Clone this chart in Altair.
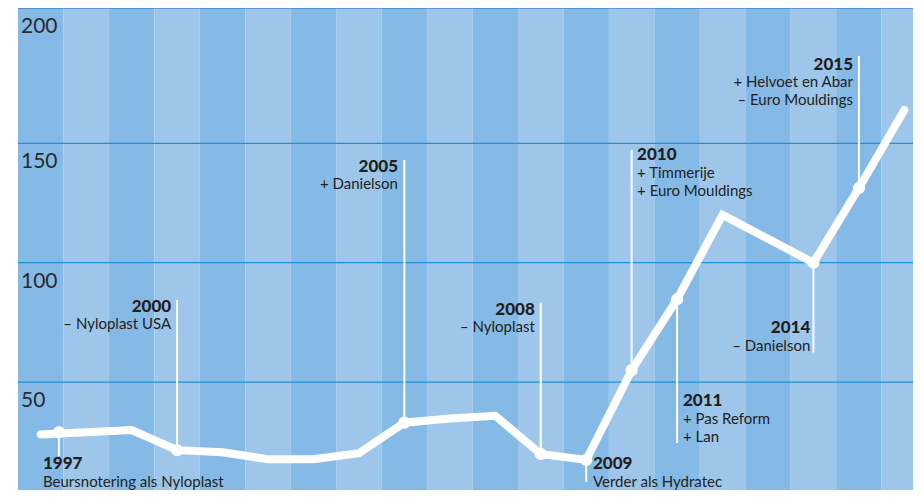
import altair as alt
import pandas as pd

# ---- data -------------------------------------------------------------
years = list(range(1997, 2017))
values = [28.1, 29.0, 29.9, 21.5, 20.6, 17.7, 17.7, 20.2, 33.0, 34.8,
          35.9, 19.9, 17.4, 55.0, 84.7, 120.0, 110.0, 100.0, 131.3, 162.3]

grid_values = [50, 100, 150, 200]
grid_labels = ["50", "100", "150", "200"]

ev_x = [1997.4, 2000, 2005, 2008, 2009, 2010, 2011, 2014, 2015]
ev_value = [29.0, 21.5, 33.0, 19.9, 17.4, 55.0, 84.7, 100.0, 131.3]
ev_leader_end = [19.0, 84.4, 143.0, 83.3, 8.2, 147.2, 24.5, 62.4, 182.3]
ev_label = ["1997", "2000", "2005", "2008", "2009", "2010", "2011", "2014", "2015"]
ev_text = [
    ["Beursnotering als Nyloplast"],
    ["\u2013 Nyloplast USA"],
    ["+ Danielson"],
    ["\u2013 Nyloplast"],
    ["Verder als Hydratec"],
    ["+ Timmerije", "+ Euro Mouldings"],
    ["+ Pas Reform", "+ Lan"],
    ["\u2013 Danielson"],
    ["+ Helvoet en Abar", "\u2013 Euro Mouldings"],
]
ev_text_x = [1997.05, 1999.87, 2004.86, 2007.87, 2009.15, 2010.12, 2011.13, 2013.93, 2014.87]
ev_text_y = [13.6, 79.5, 138.1, 78.2, 13.6, 143.0, 39.8, 70.5, 177.2]
ev_side = ["left", "right", "right", "right", "left", "left", "left", "right", "right"]

# ---- tables -------------------------------------------------------------
series = pd.DataFrame({"year": years, "value": values})
stripes = pd.DataFrame({"year": years, "band": [i % 2 for i in range(len(years))]})
grid = pd.DataFrame({"v": grid_values, "lab": grid_labels})
events = pd.DataFrame({
    "x": ev_x, "value": ev_value, "end": ev_leader_end, "label": ev_label,
    "text": ev_text, "tx": ev_text_x, "ty": ev_text_y, "side": ev_side,
})

W = 895
H = 482
FONT = "Lato"
TXT = "#231f20"

xs = alt.Scale(domain=[1996.5, 2016.19], nice=False, zero=False)
ys = alt.Scale(domain=[0, 150, 200], range=[493.5, 135.3, 0], nice=False, zero=False)

stripe_layer = alt.Chart(stripes).transform_calculate(
    x0="datum.year - 0.5", x1="datum.year + 0.5"
).mark_rect(strokeWidth=0, clip=True).encode(
    x=alt.X("x0:Q", scale=xs, axis=None),
    x2="x1:Q",
    y=alt.value(0),
    y2=alt.value(H),
    color=alt.Color("band:N", scale=alt.Scale(domain=[0, 1], range=["#85baE6", "#9dc6ea"]), legend=None),
)

grid_layer = alt.Chart(grid).mark_rule(strokeWidth=1.2).encode(
    y=alt.Y("v:Q", scale=ys, axis=None),
    color=alt.condition(alt.datum.v == 200, alt.value("#1b6fb5"), alt.value("#2090d6")),
)

ylab_layer = alt.Chart(grid).mark_text(
    align="left", baseline="alphabetic", font=FONT, fontSize=21, fontWeight="normal",
    color="#2b2b2b", dx=3, dy=25,
).encode(
    x=alt.value(0),
    y=alt.Y("v:Q", scale=ys, axis=None),
    text="lab:N",
)

leader_layer = alt.Chart(events).mark_rule(color="white", strokeWidth=2).encode(
    x=alt.X("x:Q", scale=xs, axis=None),
    y=alt.Y("value:Q", scale=ys, axis=None),
    y2="end:Q",
)

line_layer = alt.Chart(series).mark_line(
    color="white", strokeWidth=8, strokeCap="round", strokeJoin="miter"
).encode(
    x=alt.X("year:Q", scale=xs, axis=None),
    y=alt.Y("value:Q", scale=ys, axis=None),
)

point_layer = alt.Chart(events).mark_circle(color="white", opacity=1, size=150).encode(
    x=alt.X("x:Q", scale=xs, axis=None),
    y=alt.Y("value:Q", scale=ys, axis=None),
)

def text_layers(side):
    base = alt.Chart(events).transform_filter(alt.datum.side == side)
    enc = dict(
        x=alt.X("tx:Q", scale=xs, axis=None),
        y=alt.Y("ty:Q", scale=ys, axis=None),
    )
    year_t = base.mark_text(
        align=side, baseline="alphabetic", font=FONT, fontSize=17,
        fontWeight=900, color=TXT,
    ).encode(text="label:N", **enc)
    desc_t = base.mark_text(
        align=side, baseline="alphabetic", font=FONT, fontSize=15,
        color=TXT, dy=17.5, lineHeight=18,
    ).encode(text="text:N", **enc)
    return [year_t, desc_t]

chart = alt.layer(
    stripe_layer, grid_layer, ylab_layer, leader_layer, line_layer, point_layer,
    *text_layers("left"), *text_layers("right"),
).properties(
    width=W, height=H,
    padding={"left": 10, "top": 0, "right": 0, "bottom": 0},
    autosize=alt.AutoSizeParams(type="none"),
    background="white",
).configure_view(strokeWidth=0)

chart.save("out.html", embed_options={"renderer": "svg", "actions": False})
